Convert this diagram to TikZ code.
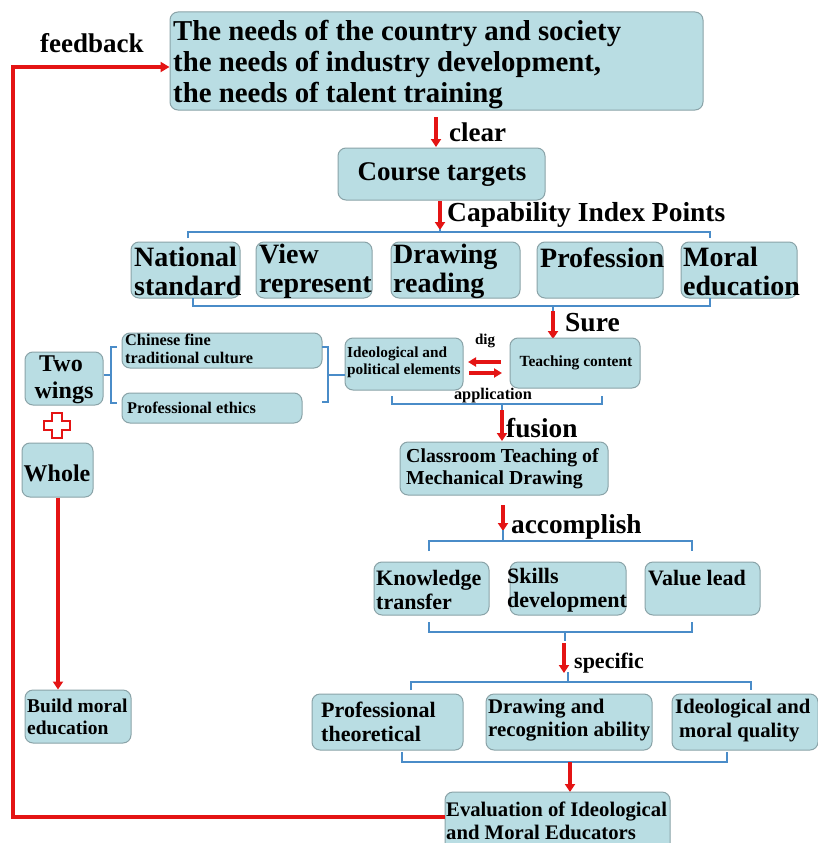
\documentclass[tikz,border=0pt]{standalone}
\usepackage{fontspec}
\setmainfont{Liberation Serif}
\usetikzlibrary{arrows.meta}
\definecolor{boxfill}{HTML}{B9DDE3}
\definecolor{boxline}{HTML}{8AA3A8}
\definecolor{brk}{HTML}{4A8CC8}
\definecolor{rd}{HTML}{E41414}
\newcommand{\fz}[2]{\fontsize{#1}{#2}\selectfont}
\tikzset{
  box/.style={draw=boxline, line width=1pt, fill=boxfill, rounded corners=8pt, inner sep=0pt},
  txt/.style={inner sep=0pt, align=left, font=\bfseries},
  rarrow/.style={draw=rd, line width=3.2pt, -{Triangle[length=8pt,width=10pt]}},
  brack/.style={draw=brk, line width=1.1pt},
  lbl/.style={font=\bfseries, inner sep=0pt, anchor=west},
}
% \bx{name}{cx}{cy}{w}{h}
\newcommand{\bx}[5]{\node[box, minimum width=#4, minimum height=#5] (#1) at (#2,#3) {};}
\begin{document}
\begin{tikzpicture}[x=1pt,y=-1pt]
\useasboundingbox (0,0) rectangle (818,843);
\fill[white] (0,0) rectangle (818,843);
\begin{scope}
\clip (0,0) rectangle (818,843);
% top
\bx{top}{436.5}{61}{533}{98}
\node[txt, anchor=west, font=\bfseries\fz{28.8}{31}] (topt) at (173,65) {The needs of the country and society\\the needs of industry development,\\the needs of talent training};
\node[lbl, font=\bfseries\fz{27}{30}] (fb) at (40,43) {feedback};
\coordinate (c1a) at (436,117); \coordinate (c1b) at (436,147);
\draw[rarrow] (c1a) -- (c1b);
\node[lbl, font=\bfseries\fz{27}{30}] (clear) at (449,132) {clear};
\bx{course}{441.5}{174}{207}{52}
\node[txt, font=\bfseries\fz{27}{30}] (courset) at (442,175) {Course targets};
\coordinate (c2a) at (440,201); \coordinate (c2b) at (440,230);
\draw[rarrow] (c2a) -- (c2b);
\node[lbl, font=\bfseries\fz{27.5}{30}] (cap) at (447,215) {Capability Index Points};
\draw[brack] (188,238) -- (188,232) -- (710,232) -- (710,238);
\draw[brack] (440,229) -- (440,232);
\bx{ns}{185.5}{270}{109}{56}
\bx{vr}{314}{270}{116}{56}
\bx{dr}{455.5}{270}{129}{56}
\bx{pr}{600}{270}{126}{56}
\bx{me}{739}{270}{116}{56}
\node[txt, anchor=west, font=\bfseries\fz{28}{29}] (nst) at (134,271) {National\\standard};
\node[txt, anchor=west, font=\bfseries\fz{28}{29}] (vrt) at (259,271) {View\\represent};
\node[txt, anchor=west, font=\bfseries\fz{28}{29}] (drt) at (393,271) {Drawing\\reading};
\node[txt, anchor=west, font=\bfseries\fz{28}{29}] (prt) at (540,258) {Profession};
\node[txt, anchor=west, font=\bfseries\fz{28}{29}] (met) at (683,271) {Moral\\education};
\draw[brack] (193,298) -- (193,306) -- (710,306) -- (710,298);
\draw[brack] (553,306) -- (553,312);
\coordinate (c3a) at (553,311); \coordinate (c3b) at (553,339);
\draw[rarrow] (c3a) -- (c3b);
\node[lbl, font=\bfseries\fz{27.5}{30}] (sure) at (565,323) {Sure};
% middle row
\bx{tc}{575}{363}{130}{50}
\node[txt, font=\bfseries\fz{15.5}{18}] (tct) at (576,363) {Teaching content};
\bx{ip}{404}{364}{118}{52}
\node[txt, anchor=west, font=\bfseries\fz{15.3}{17}] (ipt) at (347,362) {Ideological and\\political elements};
\node[txt, font=\bfseries\fz{15}{17}] (dig) at (485,341) {dig};
\coordinate (da) at (501,362); \coordinate (db) at (468,362);
\coordinate (dc) at (469,373); \coordinate (dd) at (502,373);
\draw[draw=rd, line width=3.4pt, -{Triangle[length=8pt,width=9pt]}] (da) -- (db);
\draw[draw=rd, line width=3.4pt, -{Triangle[length=8pt,width=9pt]}] (dc) -- (dd);
\node[txt, font=\bfseries\fz{16.3}{18}] (app) at (493,396) {application};
\draw[brack] (392,396) -- (392,404) -- (602,404) -- (602,396);
\draw[brack] (502,404) -- (502,412);
\coordinate (c4a) at (502,410); \coordinate (c4b) at (502,441);
\draw[rarrow] (c4a) -- (c4b);
\node[lbl, font=\bfseries\fz{27.3}{30}] (fusion) at (506,428) {fusion};
\bx{cr}{504}{468.5}{208}{53}
\node[txt, anchor=west, font=\bfseries\fz{19.8}{22}] (crt) at (406,469) {Classroom Teaching of\\Mechanical Drawing};
\coordinate (c5a) at (503,505); \coordinate (c5b) at (503,531);
\draw[rarrow] (c5a) -- (c5b);
\node[lbl, font=\bfseries\fz{27.3}{30}] (acc) at (511,527) {accomplish};
\draw[brack] (503,530) -- (503,541);
\draw[brack] (429,551) -- (429,541) -- (692,541) -- (692,551);
\bx{kt}{431.5}{588.5}{115}{53}
\bx{sd}{568}{588.5}{116}{53}
\bx{vl}{702.5}{588.5}{115}{53}
\node[txt, anchor=west, font=\bfseries\fz{22}{24}] (ktt) at (376,590) {Knowledge\\transfer};
\node[txt, anchor=west, font=\bfseries\fz{22}{24}] (sdt) at (507,590) {Skills\\development};
\node[txt, anchor=west, font=\bfseries\fz{22}{24}] (vlt) at (648,578) {Value lead};
\draw[brack] (429,622) -- (429,632) -- (692,632) -- (692,622);
\draw[brack] (565,632) -- (565,641);
\coordinate (c6a) at (564,643); \coordinate (c6b) at (564,673);
\draw[rarrow] (c6a) -- (c6b);
\node[lbl, font=\bfseries\fz{22}{24}] (spec) at (574,663) {specific};
\draw[brack] (568,672) -- (568,682);
\draw[brack] (411,690) -- (411,682) -- (751,682) -- (751,690);
\bx{pt}{387.5}{722}{151}{56}
\bx{dra}{569}{722}{166}{56}
\bx{imq}{745}{722}{146}{56}
\node[txt, anchor=west, font=\bfseries\fz{22}{24}] (ptt) at (321,722) {Professional\\theoretical};
\node[txt, anchor=west, font=\bfseries\fz{20.8}{23}] (drat) at (488,720) {Drawing and\\recognition ability};
\node[txt, anchor=west, font=\bfseries\fz{20.7}{24}] (imqt) at (675,721) {Ideological and\\\hspace{4pt}moral quality};
\draw[brack] (402,752) -- (402,762) -- (727,762) -- (727,752);
\coordinate (c7a) at (570,762); \coordinate (c7b) at (570,792);
\draw[rarrow] (c7a) -- (c7b);
\bx{ev}{557.5}{825}{225}{66}
\node[txt, anchor=west, font=\bfseries\fz{20.7}{23}] (evt) at (446,821) {Evaluation of Ideological\\and Moral Educators};
% left
\bx{tw}{64}{378.5}{78}{53}
\node[txt, align=center, font=\bfseries\fz{24}{27}] (twt) at (61,380) {Two\\\hspace{6pt}wings};
\bx{cf}{222}{350.5}{200}{35}
\node[txt, anchor=west, font=\bfseries\fz{16.3}{18}] (cft) at (125,349) {Chinese fine\\traditional culture};
\bx{pe}{212}{408}{180}{30}
\node[txt, anchor=west, font=\bfseries\fz{16.3}{18}] (pet) at (127,408) {Professional ethics};
\draw[brack] (117,347) -- (111,347) -- (111,403) -- (117,403);
\draw[brack] (tw.east |- 0,375) -- (111,375);
\draw[brack] (322,347) -- (328,347) -- (328,402) -- (322,402);
\draw[brack] (328,375) -- (ip.west |- 0,375);
\draw[rd, line width=2.5pt, fill=white] (52,413) -- (62,413) -- (62,421) -- (70,421) -- (70,430) -- (62,430) -- (62,438) -- (52,438) -- (52,430) -- (44,430) -- (44,421) -- (52,421) -- cycle;
\bx{wh}{57.5}{470}{71}{54}
\node[txt, font=\bfseries\fz{24}{27}] (wht) at (57,473) {Whole};
\bx{bm}{78}{716.5}{106}{53}
\node[txt, anchor=west, font=\bfseries\fz{19.5}{22}] (bmt) at (27,717) {Build moral\\education};
\draw[rarrow] (wh.south -| 58,0) -- (bm.north -| 58,0);
% feedback loop
\coordinate (fbc1) at (13,817);
\coordinate (fbc2) at (13,67);
\draw[rd, line width=3.4pt, -{Triangle[length=9pt,width=10pt]}] (ev.west |- 0,817) -- (fbc1) -- (fbc2) -- (top.west |- 0,67);
\end{scope}
\end{tikzpicture}
\end{document}
